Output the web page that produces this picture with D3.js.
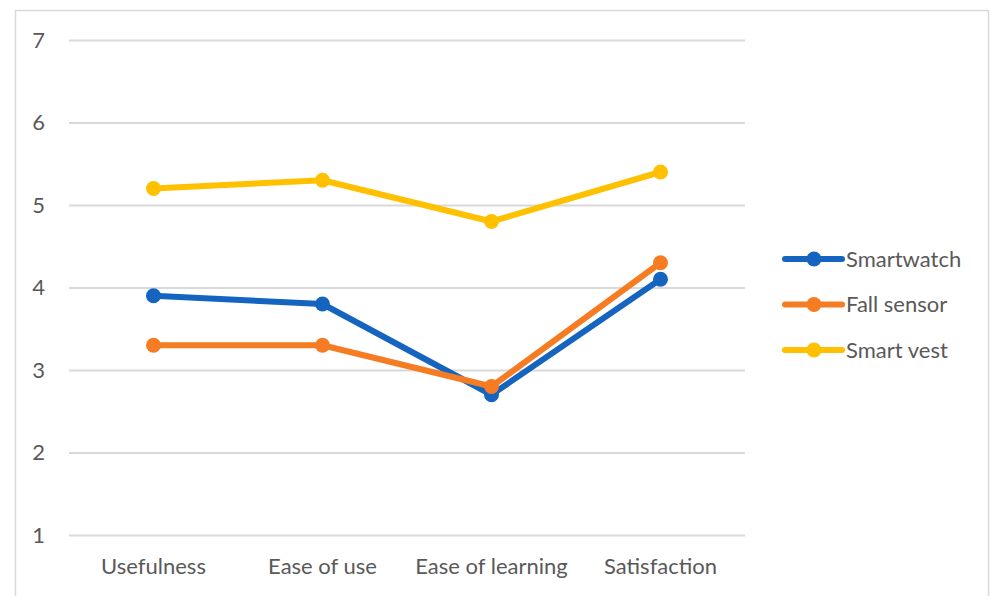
<!DOCTYPE html>
<html>
<head>
<meta charset="utf-8">
<script src="https://cdn.jsdelivr.net/npm/d3@7"></script>
<style>
  body { margin: 0; background: #fff; }
  svg { display: block; font-family: Lato, "Open Sans", sans-serif; }
</style>
</head>
<body>
<script>
let categories = ["Usefulness", "Ease of use", "Ease of learning", "Satisfaction"];
let seriesNames = ["Smartwatch", "Fall sensor", "Smart vest"];
let smartwatch = [3.9, 3.8, 2.7, 4.1];
let fallSensor = [3.3, 3.3, 2.8, 4.3];
let smartVest = [5.2, 5.3, 4.8, 5.4];
let yTicks = [1, 2, 3, 4, 5, 6, 7];
let colors = ["#1565c0", "#f57c22", "#ffc000"];

let width = 990;
let height = 596;
let plot = {left: 69, right: 745, top: 40, bottom: 535};
let fontSize = 22;

let series = [smartwatch, fallSensor, smartVest].map((vals, i) => ({
	name: seriesNames[i],
	color: colors[i],
	values: vals
}));

let svg = d3.select("body").append("svg").attr("width", width).attr("height", height);

// frame
svg.append("path")
	.attr("d", `M15.5,${height} V10.5 H988.5 V${height}`)
	.attr("fill", "none")
	.attr("stroke", "#d9d9d9")
	.attr("stroke-width", 1.5);

let xScale = d3.scaleBand()
				.domain(categories)
				.range([plot.left, plot.right]);

let yScale = d3.scaleLinear()
				.domain([1, 7])
				.range([plot.bottom, plot.top]);

let yAxis = d3.axisLeft(yScale)
			  .tickValues(yTicks)
			  .tickFormat(d3.format("d"))
			  .tickSize(-(plot.right - plot.left))
			  .tickPadding(24);

svg.append("g")
	.attr("transform", `translate(${plot.left},0)`)
	.call(yAxis)
	.call(g => g.select(".domain").remove())
	.call(g => g.selectAll("line").attr("stroke", "#d9d9d9").attr("stroke-width", 2))
	.call(g => g.selectAll("text").attr("fill", "#595959").attr("font-size", fontSize).attr("font-family", "Lato, sans-serif"));

let xAxis = d3.axisBottom(xScale).tickSize(0).tickPadding(23);

svg.append("g")
	.attr("transform", `translate(0,${plot.bottom})`)
	.call(xAxis)
	.call(g => g.select(".domain").remove())
	.call(g => g.selectAll("text").attr("fill", "#595959").attr("font-size", fontSize).attr("font-family", "Lato, sans-serif"));

let line = d3.line()
			 .x((d, i) => xScale(categories[i]) + xScale.bandwidth() / 2)
			 .y(d => yScale(d));

let groups = svg.selectAll("g.series").data(series).enter()
	.append("g").attr("class", "series");

groups.append("path")
	.attr("d", d => line(d.values))
	.attr("fill", "none")
	.attr("stroke", d => d.color)
	.attr("stroke-width", 6)
	.attr("stroke-linejoin", "round");

groups.selectAll("circle")
	.data(d => d.values.map((v, i) => ({v: v, i: i, color: d.color})))
	.enter()
	.append("circle")
	.attr("cx", d => xScale(categories[d.i]) + xScale.bandwidth() / 2)
	.attr("cy", d => yScale(d.v))
	.attr("r", 7.5)
	.attr("fill", d => d.color);

// legend
let legendY = d3.scalePoint().domain(seriesNames).range([259, 350]);
let legend = svg.selectAll("g.legend").data(series).enter()
	.append("g")
	.attr("class", "legend")
	.attr("transform", d => `translate(785,${legendY(d.name)})`);

legend.append("line")
	.attr("x1", 0).attr("x2", 57)
	.attr("stroke", d => d.color)
	.attr("stroke-width", 6)
	.attr("stroke-linecap", "round");

legend.append("circle")
	.attr("cx", 29).attr("r", 7.5)
	.attr("fill", d => d.color);

legend.append("text")
	.attr("x", 61)
	.attr("dy", "0.35em")
	.attr("fill", "#595959")
	.attr("font-size", fontSize)
	.text(d => d.name);
</script>
</body>
</html>
